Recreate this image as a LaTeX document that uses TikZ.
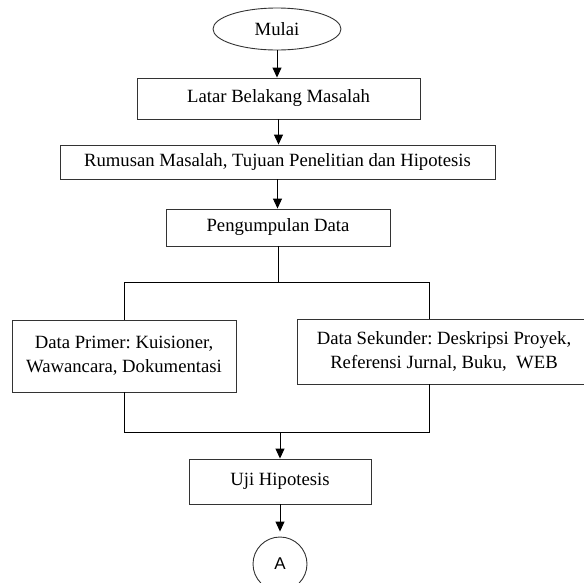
\documentclass[tikz,border=0pt]{standalone}
\usepackage{fontspec}
\setmainfont{Liberation Serif}
\newfontfamily\arialfont{Liberation Sans}
\usetikzlibrary{arrows.meta,shapes.geometric}
\frenchspacing
\tikzset{
    proses/.style={rectangle, draw=black!80, line width=0.9pt, inner sep=0pt, align=center},
    terminal/.style={ellipse, draw=black!80, line width=0.9pt, inner sep=0pt, minimum width=128pt, minimum height=42pt},
    konektor/.style={circle, draw=black!80, line width=0.9pt, inner sep=0pt, minimum size=54pt, font=\arialfont\fontsize{17}{20}\selectfont},
    panah/.style={-{Triangle[length=10pt,width=9pt]}, line width=0.9pt}
}

\begin{document}
\begin{tikzpicture}
  [
    x                 = 1pt,
    y                 = -1pt,
    every node/.style = {font=\fontsize{18.7}{24}\selectfont},
  ]
  \useasboundingbox (0,0) rectangle (584,582);
  \node [terminal] (mulai) at (277,29) {Mulai};
  \node [proses, minimum width=283pt, minimum height=41pt] (latar) at (278.5,98.5) {Latar Belakang Masalah};
  \node [proses, minimum width=435pt, minimum height=34pt] (rumusan) at (277.5,162) {Rumusan Masalah, Tujuan Penelitian dan Hipotesis};
  \node [proses, minimum width=224pt, minimum height=37pt] (pengumpulan) at (278,227.5) {Pengumpulan Data};
  \node [proses, minimum width=224pt, minimum height=72pt] (primer) at (124,356) {Data Primer: Kuisioner,\\Wawancara, Dokumentasi};
  \node [proses, minimum width=294pt, minimum height=65pt] (sekunder) at (444,351.5) {Data Sekunder: Deskripsi Proyek,\\Referensi Jurnal, Buku, \ WEB};
  \node [proses, minimum width=182pt, minimum height=45pt] (uji) at (280,481.5) {Uji Hipotesis};
  \node [konektor] (a) at (280,564) {A};

  % titik cabang
  \coordinate (kiriatas) at (124,282);
  \coordinate (kananatas) at (429,282);
  \coordinate (kiribawah) at (124,432);
  \coordinate (kananbawah) at (429,432);

  \draw [panah] (mulai) -- (mulai |- latar.north);
  \draw [panah] (latar) -- (latar |- rumusan.north);
  \draw [panah] (rumusan) -- (rumusan |- pengumpulan.north);
  \draw [line width=0.9pt] (pengumpulan.south) -- (pengumpulan.south |- kiriatas);
  \draw [line width=0.9pt] (primer.north) -- (kiriatas) -- (kananatas) -- (kananatas |- sekunder.north);
  \draw [line width=0.9pt] (primer.south) -- (kiribawah) -- (kananbawah) -- (kananbawah |- sekunder.south);
  \draw [panah] (uji.north |- kiribawah) -- (uji.north);
  \draw [panah, shorten >=5pt] (uji) -- (a);
\end{tikzpicture}
\end{document}
